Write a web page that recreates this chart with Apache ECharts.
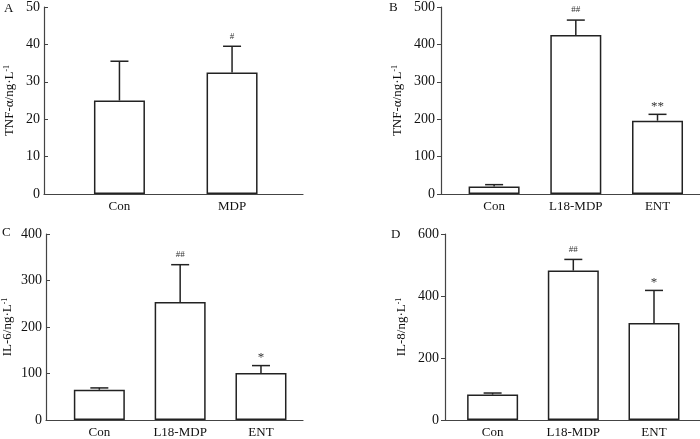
<!DOCTYPE html>
<html lang="en">
<head>
    <meta charset="UTF-8">
    <title>Cytokines</title>
    <script src="https://cdn.jsdelivr.net/npm/echarts@6/dist/echarts.min.js"></script>
    <style>
        body { margin: 0; padding: 0; background: #fff; }
        #chart { width: 700px; height: 439px; }
    </style>
</head>
<body>
    <div id="chart"></div>
    <script>
        // data
        const catsA = ['Con', 'MDP'];
        const meanA = [25, 32.5];
        const sdA = [10.5, 7];
        const markA = ['', '#'];

        const cats3 = ['Con', 'L18-MDP', 'ENT'];
        const meanB = [20, 425, 196];
        const sdB = [5, 40, 17];
        const markB = ['', '##', '**'];

        const meanC = [65, 254, 101];
        const sdC = [4, 80, 16];
        const markC = ['', '##', '*'];

        const meanD = [82, 482, 313];
        const sdD = [5, 36, 105];
        const markD = ['', '##', '*'];

        const yMaxes = [50, 500, 400, 600];
        const yIntervals = [10, 100, 100, 200];

        const FONT = "'Liberation Serif', 'Times New Roman', serif";
        const INK = '#111';

        // layout per panel
        const panels = [
            { letter: 'A', cats: catsA, mean: meanA, sd: sdA, mark: markA, yName: 'TNF-α/ng·L',
              grid: { left: 44, top: 6, width: 259, height: 188 }, xMin: -0.67, xMax: 1.63, inside: true, nameGap: 28, labelMargin: 4,
              letterPos: [4, 2] },
            { letter: 'B', cats: cats3, mean: meanB, sd: sdB, mark: markB, yName: 'TNF-α/ng·L',
              grid: { left: 441, top: 5, width: 259, height: 189 }, xMin: -0.65, xMax: 2.52, inside: false, nameGap: 37, labelMargin: 6,
              letterPos: [389, 1] },
            { letter: 'C', cats: cats3, mean: meanC, sd: sdC, mark: markC, yName: 'IL-6/ng·L',
              grid: { left: 46, top: 234, width: 257, height: 189 }, xMin: -0.66, xMax: 2.52, inside: true, nameGap: 32, labelMargin: 4,
              letterPos: [2, 226] },
            { letter: 'D', cats: cats3, mean: meanD, sd: sdD, mark: markD, yName: 'IL-8/ng·L',
              grid: { left: 445, top: 234, width: 255, height: 189 }, xMin: -0.59, xMax: 2.57, inside: false, nameGap: 37, labelMargin: 6,
              letterPos: [391, 228] }
        ];

        const grids = [], xAxes = [], yAxes = [], series = [], texts = [];

        panels.forEach((p, i) => {
            grids.push(p.grid);
            xAxes.push({
                type: 'value',
                gridIndex: i,
                min: p.xMin,
                max: p.xMax,
                splitLine: { show: false },
                axisLine: { lineStyle: { color: '#444', width: 1.2 } },
                axisTick: { show: false },
                axisLabel: {
                    customValues: p.cats.map((c, k) => k),
                    formatter: v => p.cats[Math.round(v)] || '',
                    margin: 6,
                    fontFamily: FONT,
                    fontSize: 13,
                    color: INK
                }
            });
            yAxes.push({
                type: 'value',
                gridIndex: i,
                min: 0,
                max: yMaxes[i],
                interval: yIntervals[i],
                splitLine: { show: false },
                axisLine: { show: true, onZero: false, lineStyle: { color: '#444', width: 1.2 } },
                axisTick: { show: true, inside: p.inside, length: 4, lineStyle: { color: '#444' } },
                axisLabel: { fontFamily: FONT, fontSize: 14, color: INK, margin: p.labelMargin },
                name: '{a|' + p.yName + '}{b|-1}',
                nameLocation: 'middle',
                nameGap: p.nameGap,
                nameTextStyle: {
                    rich: {
                        a: { fontFamily: FONT, fontSize: 13, color: INK },
                        b: { fontFamily: FONT, fontSize: 8, color: INK, verticalAlign: 'top' }
                    }
                }
            });

            series.push({
                type: 'bar',
                xAxisIndex: i,
                yAxisIndex: i,
                barWidth: 51,
                data: p.mean.map((v, k) => [k, v]),
                itemStyle: { color: '#fff', borderColor: '#222', borderWidth: 1.5 },
                z: 2
            });

            series.push({
                type: 'custom',
                xAxisIndex: i,
                yAxisIndex: i,
                data: p.mean.map((v, k) => [k, v, p.sd[k]]),
                encode: { x: 0, y: 1 },
                z: 3,
                renderItem: function (params, api) {
                    const x = api.value(0);
                    const m = api.value(1);
                    const s = api.value(2);
                    const bot = api.coord([x, m]);
                    const top = api.coord([x, m + s]);
                    const mk = p.mark[params.dataIndex];
                    const stroke = { stroke: '#222', lineWidth: 1.5 };
                    const kids = [
                        { type: 'line', shape: { x1: bot[0], y1: bot[1], x2: top[0], y2: top[1] }, style: stroke },
                        { type: 'line', shape: { x1: top[0] - 9, y1: top[1], x2: top[0] + 9, y2: top[1] }, style: stroke }
                    ];
                    if (mk) {
                        const star = mk.indexOf('*') >= 0;
                        kids.push({
                            type: 'text',
                            style: {
                                x: top[0],
                                y: top[1] - (star ? 8 : 10),
                                text: mk,
                                align: 'center',
                                verticalAlign: 'middle',
                                fontFamily: FONT,
                                fontSize: star ? 13 : 9,
                                fill: '#333'
                            }
                        });
                    }
                    return { type: 'group', children: kids };
                }
            });

            texts.push({
                type: 'text',
                left: p.letterPos[0],
                top: p.letterPos[1],
                style: { text: p.letter, fontFamily: FONT, fontSize: 13, fill: INK }
            });
        });

        const chart = echarts.init(document.getElementById('chart'));
        chart.setOption({
            animation: false,
            backgroundColor: '#fff',
            grid: grids,
            xAxis: xAxes,
            yAxis: yAxes,
            series: series,
            graphic: texts
        });
    </script>
</body>
</html>
